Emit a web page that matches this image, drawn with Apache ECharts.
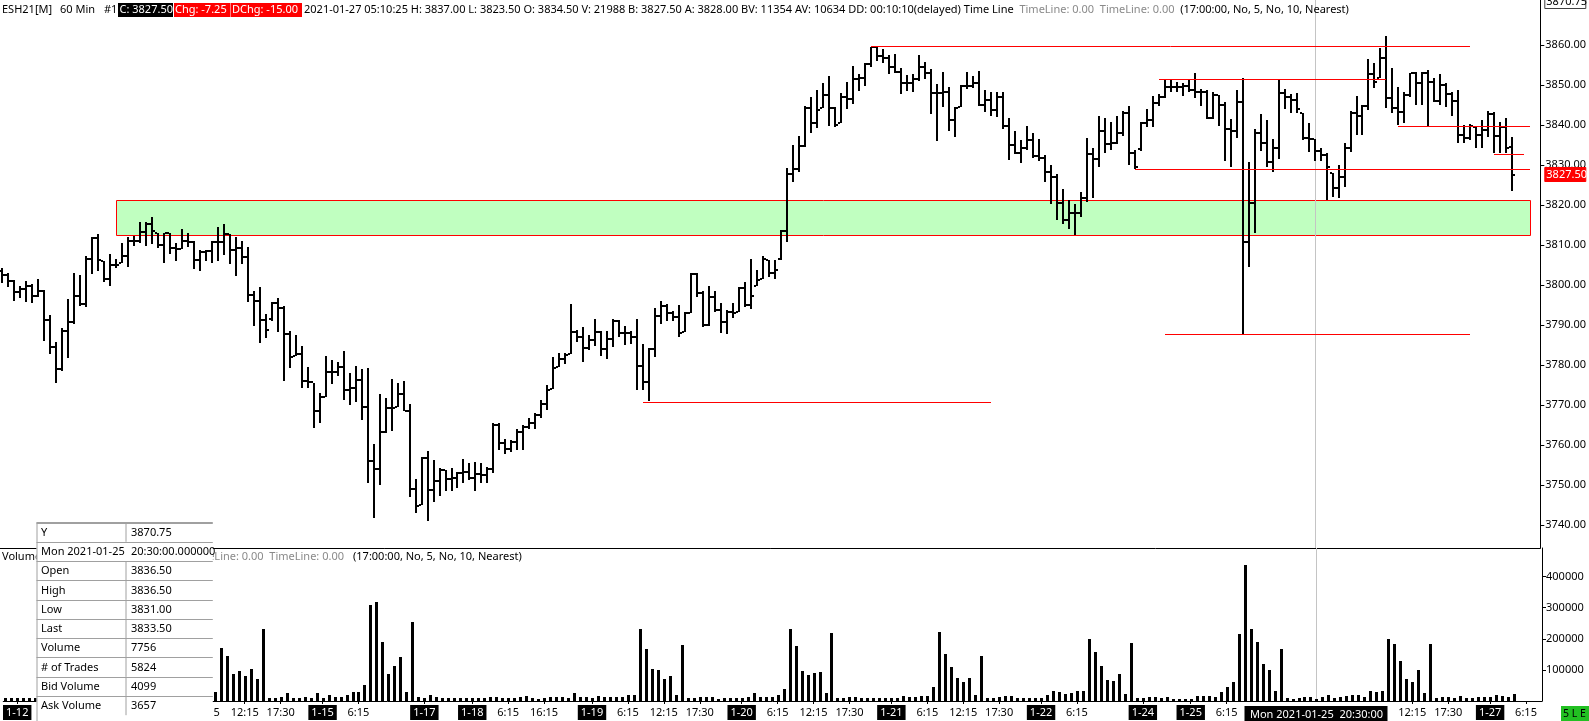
<!DOCTYPE html>
<html><head><meta charset="utf-8">
<script src="https://cdn.jsdelivr.net/npm/echarts@6/dist/echarts.min.js"></script>
<style>html,body{margin:0;padding:0;background:#fff;overflow:hidden}#c{width:1589px;height:721px}</style>
</head><body><div id="c"></div>
<script>
const FONT = '"Noto Sans", "Liberation Sans", sans-serif';

const opens = [3803.5,3802.5,3801.1,3798.3,3798.9,3799.8,3797.25,3798.6,3791.25,3784.6,
3779,3788.6,3790.8,3797.25,3795.2,3806.5,3811.8,3806,3801.4,3805,
3805.6,3807.25,3811.1,3811.1,3813.3,3815.2,3813.1,3810,3812.9,3809.3,
3808.9,3811.1,3810.8,3806.25,3808.2,3808.6,3810.8,3810.8,3812.7,3808.75,
3809.2,3807.1,3797.5,3796,3791.25,3791.5,3795.5,3794.2,3787.7,3782.25,
3782.7,3776,3775.7,3768.5,3772.1,3778.3,3778.3,3779.4,3773.75,3774.3,
3776.25,3769.4,3756,3753.9,3763.2,3769.2,3769.6,3772.75,3768.5,3748.9,
3745,3756.7,3748.75,3751,3753.75,3751.4,3751.8,3753.1,3753.3,3751.7,
3752.75,3752.5,3753.9,3765,3760.6,3758.9,3760.8,3763.3,3764.6,3765.4,
3767.5,3770.2,3774,3779.6,3781.5,3782.7,3788.3,3787.1,3784.2,3786.25,
3788.2,3783.9,3786.4,3791,3787.9,3788.1,3787.1,3779.75,3775.8,3784,
3792.25,3794.8,3793.1,3792.1,3788.3,3792.9,3802.75,3797.9,3790,3797.1,
3793.75,3790.8,3793.3,3793.3,3799.3,3795,3799.75,3801.4,3806.25,3802.9,
3806.5,3813.5,3827.7,3828.9,3834.75,3844.3,3840.6,3844.2,3847.5,3844.2,
3840.6,3847.1,3846.4,3851.4,3851.7,3855.25,3859.4,3857.25,3856.8,3854.6,
3853.3,3850.6,3850.4,3851.4,3854.6,3852.9,3847.9,3847.9,3848.3,3841.25,
3844.6,3849.8,3849.75,3850.6,3845,3846.25,3843.75,3847.1,3839.75,3835,
3832.9,3834.2,3836.25,3832.3,3831.7,3828.3,3827.1,3820.4,3816.25,3818.1,
3817.9,3821.7,3832.7,3831.4,3838.6,3835.25,3835.4,3838.1,3843.1,3832.9,
3834,3840.6,3841.25,3845.6,3846.9,3849.6,3849.6,3849.6,3849.75,3848.75,
3848.2,3848.2,3841.7,3847.5,3845,3839,3838.6,3845.7,3810.8,3820.4,
3838.1,3835.6,3830.7,3834.2,3848,3847,3846.25,3842.9,3836.7,3836.5,
3833.5,3832.5,3828.1,3824.3,3827.1,3834.2,3843.1,3842.25,3844.75,3852.7,
3851.7,3856.7,3846.7,3844.2,3843.3,3847.5,3852.9,3850.4,3852.9,3850.8,
3846,3850,3847.7,3846.1,3837.5,3836.7,3839.6,3837.5,3838.75,3842.75,
3837.25,3839.6,3834.5];

const highs = [3804.2,3802.9,3801.25,3799.75,3801.1,3800.25,3801.4,3798.75,3792.5,3785.7,
3789.3,3796.5,3802.9,3802.5,3807.25,3811.9,3812.75,3806,3807.75,3806.4,
3810.4,3811.9,3812.25,3815.7,3815.7,3816.9,3813.1,3813.1,3813.1,3810.6,
3814,3812.9,3811.1,3808.75,3808.75,3811.1,3814.4,3815.25,3812.75,3811.9,
3811.1,3809.4,3798.6,3799.6,3792.7,3795.7,3796.7,3794.75,3788.5,3787.5,
3784.75,3779.4,3775.6,3772.9,3782.25,3781.25,3780.7,3783.5,3777.9,3779.75,
3779,3779.2,3760.25,3772.75,3771.7,3776.5,3775.6,3776,3770.25,3751.5,
3756.9,3758.5,3756.25,3754.2,3753.75,3754.2,3753.3,3756.4,3755.4,3755.7,
3755.4,3754.4,3765.4,3765.6,3761.4,3761.25,3763.9,3765,3766.7,3767.9,
3771.25,3775,3781.9,3783.1,3782.9,3795.25,3788.75,3789.4,3787.5,3791.4,
3788.6,3788.6,3791.4,3791.25,3789.75,3788.6,3791.4,3785.25,3784.2,3794.2,
3796,3795.25,3793.5,3795,3793.2,3802.9,3802.9,3798.5,3799.75,3798.5,
3795.6,3793.75,3795.6,3799.6,3800.7,3806.4,3803.75,3807.3,3806.25,3806.25,
3813.75,3829.3,3835,3837.25,3844.75,3846.9,3848.75,3850.4,3852.25,3844.6,
3848.1,3850.8,3854.75,3852.75,3855.6,3859.6,3859.4,3858.9,3857.5,3857.75,
3854.2,3852.5,3852.75,3857.5,3855.8,3853.9,3850.25,3853.3,3849.6,3844.6,
3850,3853.2,3852.25,3853.6,3848.75,3848.3,3848.3,3848.2,3841.7,3838.5,
3836.25,3839.75,3838.1,3836.4,3832.5,3830,3827.75,3824,3821.25,3820.2,
3823.2,3836.7,3834.2,3842.25,3841.7,3840.8,3842.25,3843.5,3844.75,3833.75,
3840.8,3844,3847.25,3847.75,3851.25,3851.25,3850.8,3850.4,3851.25,3852.9,
3848.9,3848.75,3848.2,3847.5,3845.7,3841.4,3848.75,3851.7,3830.7,3838.9,
3842.75,3841.25,3836.5,3851.25,3849,3847.75,3847.9,3842.9,3840.4,3836.5,
3834.2,3833.1,3828.1,3830,3835.4,3843.6,3847.25,3845,3856.4,3855.4,
3859.2,3862.25,3854.2,3849.6,3848.3,3853.1,3853.3,3853.3,3853.75,3851.7,
3852.75,3850.4,3848.3,3848.75,3840,3840.2,3839.6,3841.25,3843.6,3843.3,
3840.8,3841.7,3837];

const lows = [3800.4,3799.6,3796.1,3796.7,3795.8,3795.6,3797.1,3786.1,3782.7,3775.4,
3778.6,3781.7,3790.2,3794.8,3794.6,3802.7,3803.6,3800.8,3799.8,3804.2,
3805.6,3804.6,3809.75,3810.6,3809.8,3810.25,3809.2,3805.4,3807.7,3806.1,
3808.9,3809.4,3803.9,3803.6,3806.1,3805.6,3806.1,3807.5,3805.25,3802.3,
3805.25,3795.8,3789.75,3785.4,3786.7,3791.1,3788.3,3776.1,3779.3,3782.25,
3774.3,3774.3,3764.2,3765.4,3772.1,3775.2,3777.25,3771.25,3770,3770.8,
3766.25,3750.6,3741.75,3750,3763.1,3763.6,3769.6,3768.5,3747.1,3742.9,
3745,3741,3745.8,3747.25,3748.6,3748.6,3749.2,3750.4,3751.25,3748.6,
3750.4,3750.4,3752.9,3758.75,3757.75,3758.3,3758.75,3758.75,3763.9,3763.9,
3766.7,3768.75,3774,3779.6,3780.2,3782.7,3785.8,3780.8,3783.75,3784.8,
3782.3,3781.4,3784.6,3787.1,3785,3785.25,3773.75,3773.75,3771.1,3782.1,
3790.25,3791.1,3791.1,3787.1,3788.3,3792.9,3796.9,3789.4,3789.75,3793.3,
3788.1,3787.75,3791.7,3793.3,3794.6,3793.9,3799.75,3801.4,3802.1,3801.4,
3806.25,3810.7,3825.8,3828.3,3834.6,3838.1,3839.3,3844.2,3839.75,3839.6,
3840.6,3844,3845.2,3848.6,3849.8,3854.6,3856.1,3855.6,3852.75,3853.1,
3847.7,3848.6,3848.3,3851.1,3851.4,3842.75,3836.1,3844.6,3838.5,3836.9,
3844.6,3848.9,3849.2,3844.75,3843.3,3842.3,3842.1,3838.9,3831.25,3832.7,
3830.4,3833.75,3831.7,3831.1,3825.8,3820.2,3816.25,3815.25,3813.9,3812.5,
3817.1,3820.8,3821.8,3829.6,3833.1,3833.75,3835.25,3837.25,3830,3829,
3833.6,3839.6,3839.6,3844.75,3846.8,3848.3,3848.3,3847.3,3848.3,3846.7,
3844.75,3841.4,3841.4,3839.75,3831.1,3829.6,3836.7,3787.75,3804.6,3812.9,
3833.5,3829.4,3828.2,3831.5,3844,3842.9,3842.9,3836.25,3833.3,3831,
3831,3821.25,3822.1,3821.7,3824.4,3833.3,3837.4,3837.5,3843.75,3849.2,
3851.7,3844.2,3842.9,3840,3840.4,3847.1,3845,3845,3839.75,3845.8,
3845,3844.6,3842.25,3835.4,3835.6,3836.25,3834.2,3834.2,3837.1,3832.9,
3833.1,3833.1,3823.5];

const closes = [3802.5,3801.1,3798.3,3798.9,3799.8,3797.25,3798.6,3791.25,3784.6,3779,
3788.6,3790.8,3797.25,3795.2,3806.5,3811.8,3806.25,3801.4,3805,3805,
3807.25,3811.1,3811.1,3813.3,3815.2,3813.5,3810,3812.9,3809.3,3808.9,
3811.1,3810.8,3806.25,3808.2,3808.6,3810.8,3810.8,3812.7,3808.75,3809.2,
3807.1,3797.5,3796,3791.25,3788.75,3795.5,3794.2,3787.7,3782.1,3782.7,
3776,3775.7,3768.5,3772.1,3778.3,3778.3,3779.4,3773.75,3774.3,3776.25,
3769.4,3756,3753.9,3763.2,3769.2,3769.2,3772.75,3768.5,3748.9,3744.75,
3756.7,3748.75,3751,3753.75,3751.4,3751.8,3753.1,3753.3,3751.7,3752.75,
3752.5,3753.9,3765,3760.6,3758.9,3760.8,3763.3,3764.6,3765.4,3767.5,
3770.2,3773.75,3779.2,3781.5,3782.5,3788.3,3787.1,3784.2,3786.25,3788.2,
3783.9,3786.4,3791,3787.9,3788.1,3787.1,3779.75,3775.8,3784,3792.25,
3794.8,3793.1,3792.1,3787.9,3792.9,3802.75,3797.9,3790,3797.1,3793.75,
3790.8,3793.3,3792.9,3799.3,3795,3797.3,3801.25,3806.4,3802.9,3803.75,
3813.5,3827.7,3828.9,3834.75,3844.3,3840.6,3843.75,3847.5,3844.2,3840,
3847.1,3846.4,3851.4,3851.7,3855.25,3859.4,3857.25,3856.8,3854.6,3853.3,
3850.6,3850.4,3851.4,3854.6,3852.9,3847.9,3847.9,3848.3,3841.25,3844.2,
3849.8,3849.75,3850.6,3845,3846.25,3843.75,3847.1,3839.75,3835,3832.9,
3834.2,3836.25,3832.3,3831.7,3828.3,3827.1,3820.4,3816.25,3818.1,3817.9,
3821.7,3832.7,3831.4,3838.6,3835.25,3835.4,3838.1,3843.1,3832.9,3829.4,
3840.6,3841.25,3845.6,3846.9,3849.6,3849.6,3849.6,3849.75,3848.75,3848.2,
3848.2,3841.7,3847.5,3845,3839,3838.6,3845.7,3810.8,3820.4,3838.1,
3835.6,3830.7,3834.2,3848,3847,3846.25,3843.9,3836.7,3836.5,3833.5,
3832.5,3829.4,3824.3,3827.1,3834.2,3843.1,3842.25,3844.75,3852.7,3850.8,
3856.7,3846.7,3844.2,3843.3,3847.5,3852.9,3850.4,3852.9,3850.8,3846,
3850,3847.7,3846.1,3837.5,3836.7,3839.75,3837.5,3838.75,3842.75,3837.25,
3839.6,3834.2,3827.5];

const volumes = [9000,8500,9500,9000,10000,11000,12000,45000,40000,35000,
45000,200000,150000,95000,100000,85000,90000,60000,190000,12000,
10000,9000,9000,8500,8500,9000,9000,8500,9000,10000,
10000,12000,13000,15000,18000,30000,170000,145000,88000,98000,
81000,104000,71000,230000,8800,8800,14300,25000,11000,10400,
14300,8800,25000,11000,18700,14300,13200,19800,27500,29700,
52700,309000,319000,190000,88000,111000,141000,29700,253000,14300,
8800,18700,12000,11000,8800,8800,8800,8800,8800,8800,
8800,12000,12000,8800,8800,8800,12000,15400,8800,6600,
8800,12000,12000,12000,10400,25000,12000,12000,10400,15400,
13200,13200,13200,13200,18700,18700,230000,167000,104000,101000,
71000,79000,18700,180000,10400,10400,12000,12000,12000,7700,
10400,10400,10400,10400,13200,25000,14300,13200,13200,18700,
38500,233000,177000,98000,85000,91000,94500,25000,220000,8800,
10400,12000,12000,8800,8800,8800,8800,8800,8800,8800,
15400,12000,12000,15400,15400,45000,223000,150500,108000,75000,
61500,75000,18700,144000,8800,8800,12000,15400,15400,10400,
10400,10400,10400,9000,18700,33000,29700,23000,26000,33000,
33000,200000,157000,114000,68000,65000,88000,22000,187000,10000,
8800,12000,12000,10000,12000,6600,6600,6600,6600,15400,
15400,15400,12000,29700,46000,62600,214000,437000,231000,190000,
117600,101000,33000,167000,8800,6600,10000,13000,13000,7756,
13000,18700,10000,13000,16500,19800,18700,13000,33000,29700,
33000,198000,183500,128600,71000,62600,99000,25000,183500,10000,
12000,12000,10000,15400,10000,10000,12000,12000,12000,18700,
15400,12000,21988];

// x-axis tick labels (bar index positions)
const tickPositions = [2,34,40,46,53,59,70,78,84,90,98,104,110,116,123,129,135,141,148,154,160,166,173,179,190,198,204,235,241,248,254];
const tickLabels = ['1-12','6:15','12:15','17:30','1-15','6:15','1-17','1-18','6:15','16:15','1-19','6:15','12:15','17:30','1-20','6:15','12:15','17:30','1-21','6:15','12:15','17:30','1-22','6:15','1-24','1-25','6:15','12:15','17:30','1-27','6:15'];
const priceTicks = [3740,3750,3760,3770,3780,3790,3800,3810,3820,3830,3840,3850,3860];
const volumeTicks = [100000,200000,300000,400000];

// drawn horizontal levels: start bar, end bar, price
const levelStarts = [145,193,189,233,249,194,107];
const levelEnds   = [245,231,255,255,254,245,165];
const levelPrices = [3859.75,3851.4,3829,3839.75,3832.75,3787.75,3770.75];
// zone: start bar, end bar, top, bottom
const zoneRange = [19,255,3821.2,3812.4];
const cursorBar = 219;
const tagPrices = [3827.5, 3870.75];
const tagTexts = ['3827.50','3870.75'];

const bars = highs.map((h,i)=>[i,opens[i],h,lows[i],closes[i]]);
const vols = volumes.map((v,i)=>[i,v]);
const levels = levelPrices.map((p,k)=>[levelStarts[k],levelEnds[k],p]);

const XMIN = -1/3, XMAX = 256 + 2/3;

function renderBar(params, api){
  const i = api.value(0);
  const pH = api.coord([i, api.value(2)]);
  const x = Math.round(pH[0]);
  const top = Math.round(pH[1]);
  const bot = Math.round(api.coord([i, api.value(3)])[1]);
  const yO = Math.round(api.coord([i, api.value(1)])[1]);
  const yC = Math.round(api.coord([i, api.value(4)])[1]);
  return {type:'group', children:[
    {type:'rect', shape:{x:x-1, y:top, width:2, height:Math.max(2,bot-top)}, style:{fill:'#000'}},
    {type:'rect', shape:{x:x-3, y:yO-1, width:2, height:2}, style:{fill:'#000'}},
    {type:'rect', shape:{x:x+1, y:yC-1, width:2, height:2}, style:{fill:'#000'}}
  ]};
}
function renderVol(params, api){
  const i = api.value(0);
  const p0 = api.coord([i,0]);
  const p1 = api.coord([i, api.value(1)]);
  const x = Math.round(p0[0]);
  const y0 = Math.round(p0[1]), y1 = Math.round(p1[1]);
  return {type:'rect', shape:{x:x-1, y:y1, width:3, height:Math.max(1,y0-y1)}, style:{fill:'#000'}};
}
function renderLevel(params, api){
  const p1 = api.coord([api.value(0), api.value(2)]);
  const p2 = api.coord([api.value(1), api.value(2)]);
  const y = Math.round(p1[1]) + 0.5;
  return {type:'line', shape:{x1:Math.round(p1[0]), y1:y, x2:Math.round(p2[0]), y2:y}, style:{stroke:'#ff0000', lineWidth:1}};
}
function renderZone(params, api){
  const p1 = api.coord([api.value(0), api.value(2)]);
  const p2 = api.coord([api.value(1), api.value(3)]);
  const x1 = Math.round(p1[0])+0.5, y1 = Math.round(p1[1])+0.5;
  const x2 = Math.round(p2[0])+0.5, y2 = Math.round(p2[1])+0.5;
  return {type:'rect', shape:{x:x1, y:y1, width:x2-x1, height:y2-y1}, style:{fill:'#c0ffc0', stroke:'#ff0000', lineWidth:1}};
}
function renderCursor(withLabel){
  return function(params, api){
    const cs = params.coordSys;
    const x = Math.round(api.coord([api.value(0), 0])[0]) + 0.5;
    const ch = [{type:'line', shape:{x1:x, y1:cs.y, x2:x, y2:cs.y+cs.height}, style:{stroke:'#c4c4c4', lineWidth:1}}];
    if (withLabel){
      const by = cs.y + cs.height + 5;
      ch.push({type:'rect', shape:{x:x-72, y:by, width:143, height:18}, style:{fill:'#000'}});
      ch.push({type:'text', style:{x:x, y:by+8.5, text:'Mon 2021-01-25  20:30:00', fill:'#fff', font:'11px '+FONT, align:'center', verticalAlign:'middle', textAlign:'center', textVerticalAlign:'middle'}});
    }
    return {type:'group', children:ch};
  };
}
function renderTag(params, api){
  const cs = params.coordSys;
  const k = api.value(1);
  const y = Math.round(api.coord([0, api.value(0)])[1]);
  const x0 = cs.x + cs.width + 4;
  const red = k === 0;
  return {type:'group', children:[
    {type:'rect', shape:{x:x0+0.5, y:y-7.5, width:41, height:14}, style:{fill: red ? '#ff0000' : '#ffffff', stroke: red ? '#ff0000' : '#404040', lineWidth:1}},
    {type:'text', style:{x:x0+2, y:y, text:tagTexts[k], fill: red ? '#fff' : '#000', font:'11px '+FONT, align:'left', verticalAlign:'middle', textAlign:'left', textVerticalAlign:'middle'}}
  ]};
}

// ---------- graphic overlays ----------
const g = [];
function txt(x, y, text, o){
  o = o || {};
  g.push({type:'text', z:o.z||100, style:Object.assign({x:x, y:y, text:text, font:(o.size||11)+'px '+FONT, fill:o.fill||'#000',
    align:o.align||'left', verticalAlign:'middle', textAlign:o.align||'left', textVerticalAlign:'middle'}, o.style||{})});
}
function rect(x,y,w,h,fill,z,stroke){
  g.push({type:'rect', z:z||99, shape:{x:x,y:y,width:w,height:h}, style:{fill:fill, stroke:stroke||null, lineWidth:1}});
}
function hline(x1,x2,y,stroke,w,z){
  g.push({type:'line', z:z||100, shape:{x1:x1,y1:y,x2:x2,y2:y}, style:{stroke:stroke, lineWidth:w||1}});
}
function vline(x,y1,y2,stroke,w,z){
  g.push({type:'line', z:z||100, shape:{x1:x,y1:y1,x2:x,y2:y2}, style:{stroke:stroke, lineWidth:w||1}});
}
// header
const HY = 10;
txt(2, HY, 'ESH21[M]');
txt(60, HY, '60 Min');
txt(104, HY, '#1');
rect(118, 3, 55, 14, '#000');
txt(119.5, HY, 'C: 3827.50', {fill:'#fff'});
rect(174, 3, 56.5, 14, '#ff0000');
txt(175, HY, 'Chg: -7.25', {fill:'#fff'});
rect(231, 3, 71, 14, '#ff0000');
txt(232, HY, 'DChg: -15.00', {fill:'#fff'});
g.push({type:'text', z:100, style:{x:304, y:HY, verticalAlign:'middle', textVerticalAlign:'middle', font:'11px '+FONT, fill:'#000',
  text:'{a|2021-01-27 05:10:25 H: 3837.00 L: 3823.50 O: 3834.50 V: 21988 B: 3827.50 A: 3828.00 BV: 11354 AV: 10634 DD: 00:10:10(delayed) Time Line}{a|  }{g|TimeLine: 0.00}{a|  }{g|TimeLine: 0.00}{a|  }{a|(17:00:00, No, 5, No, 10, Nearest)}',
  rich:{a:{fill:'#000', font:'11px '+FONT}, g:{fill:'#8a8a8a', font:'11px '+FONT}}}});
// volume pane header (partly behind the info box)
txt(2, 557, 'Volume', {z:50});
txt(344, 557, 'TimeLine: 0.00  TimeLine: 0.00', {z:50, fill:'#8a8a8a', align:'right'});
txt(353, 557, '(17:00:00, No, 5, No, 10, Nearest)', {z:50});
// info box
const BX = 36.5, BW = 176.3, BT = 522.5, RH = 19.27, CX = 125.5;
const infoRows = [['Y','3870.75'],['Mon 2021-01-25','20:30:00.000000'],['Open','3836.50'],['High','3836.50'],['Low','3831.00'],['Last','3833.50'],['Volume','7756'],['# of Trades','5824'],['Bid Volume','4099'],['Ask Volume','3657']];
rect(BX, BT, BW, 205, '#ffffff', 98);
hline(BX, BX+BW, BT+0.5, '#a0a0a0', 2, 101);
vline(BX+0.5, BT, 721, '#a0a0a0', 1, 101);
infoRows.forEach((r,k)=>{
  const top = BT + k*RH;
  if (k>0) hline(BX, BX+BW, Math.round(top)+0.5, '#a0a0a0', 1, 101);
  if (k!==1) vline(CX+0.5, top, top+RH, '#a0a0a0', 1, 101);
  txt(BX+4.5, top + RH/2 + 0.5, r[0], {z:102});
  txt(131, top + RH/2 + 0.5, r[1], {z:102});
});
// bottom-right status box
rect(1561, 706, 28, 15, '#22c022', 99);
txt(1563, 714, '5 L E', {z:100, size:10.5});

const chart = echarts.init(document.getElementById('c'), null, {renderer:'canvas'});
chart.setOption({
  animation:false,
  backgroundColor:'#ffffff',
  textStyle:{fontFamily:FONT},
  grid:[
    {left:0, top:0, width:1542, height:548},
    {left:0, top:548, width:1542, height:153}
  ],
  xAxis:[
    {gridIndex:0, type:'value', min:XMIN, max:XMAX, axisLine:{show:true, onZero:false, lineStyle:{color:'#000', width:1}}, axisTick:{show:false}, axisLabel:{show:false}, splitLine:{show:false}},
    {gridIndex:1, type:'value', min:XMIN, max:XMAX, axisLine:{show:true, onZero:false, lineStyle:{color:'#000', width:1}},
      axisTick:{show:true, customValues:tickPositions, length:3, lineStyle:{color:'#000'}},
      axisLabel:{show:true, customValues:tickPositions, margin:4, fontSize:11, fontFamily:FONT, color:'#000',
        formatter:function(v){ const k = tickPositions.indexOf(Math.round(v)); if(k<0) return ''; const t = tickLabels[k]; return t.indexOf('-')>=0 ? '{d|'+t+'}' : '{n|'+t+'}'; },
        rich:{d:{backgroundColor:'#000', color:'#fff', padding:[2,3,2,3], fontSize:11, fontFamily:FONT}, n:{color:'#000', padding:[2,3,2,3], fontSize:11, fontFamily:FONT}}},
      splitLine:{show:false}}
  ],
  yAxis:[
    {gridIndex:0, type:'value', position:'right', min:3734.25, max:3871.25, axisLine:{show:true, onZero:false, lineStyle:{color:'#000'}},
      axisTick:{show:true, customValues:priceTicks, length:4, lineStyle:{color:'#000'}},
      axisLabel:{customValues:priceTicks, formatter:function(v){return Number(v).toFixed(2);}, margin:5, fontSize:11, fontFamily:FONT, color:'#000'},
      splitLine:{show:false}},
    {gridIndex:1, type:'value', position:'right', min:0, max:492000, axisLine:{show:true, onZero:false, lineStyle:{color:'#000'}},
      axisTick:{show:true, customValues:volumeTicks, length:4, lineStyle:{color:'#000'}},
      axisLabel:{customValues:volumeTicks, formatter:function(v){return String(Math.round(v));}, margin:4, fontSize:11, fontFamily:FONT, color:'#000'},
      splitLine:{show:false}}
  ],
  series:[
    {type:'custom', name:'zone', xAxisIndex:0, yAxisIndex:0, z:1, clip:false, data:[zoneRange], encode:{x:[0,1], y:[2,3]}, renderItem:renderZone, silent:true},
    {type:'custom', name:'cursor', xAxisIndex:0, yAxisIndex:0, z:2, clip:false, data:[[cursorBar]], encode:{x:0}, renderItem:renderCursor(false), silent:true},
    {type:'custom', name:'ohlc', xAxisIndex:0, yAxisIndex:0, z:3, clip:false, data:bars, encode:{x:0, y:[1,2,3,4]}, renderItem:renderBar, silent:true},
    {type:'custom', name:'levels', xAxisIndex:0, yAxisIndex:0, z:4, clip:false, data:levels, encode:{x:[0,1], y:2}, renderItem:renderLevel, silent:true},
    {type:'custom', name:'tags', xAxisIndex:0, yAxisIndex:0, z:5, clip:false, data:tagPrices.map((p,k)=>[p,k]), encode:{y:0}, renderItem:renderTag, silent:true},
    {type:'custom', name:'cursor2', xAxisIndex:1, yAxisIndex:1, z:2, clip:false, data:[[cursorBar]], encode:{x:0}, renderItem:renderCursor(true), silent:true},
    {type:'custom', name:'volume', xAxisIndex:1, yAxisIndex:1, z:3, clip:false, data:vols, encode:{x:0, y:1}, renderItem:renderVol, silent:true}
  ],
  graphic:{elements:g}
});
</script></body></html>
